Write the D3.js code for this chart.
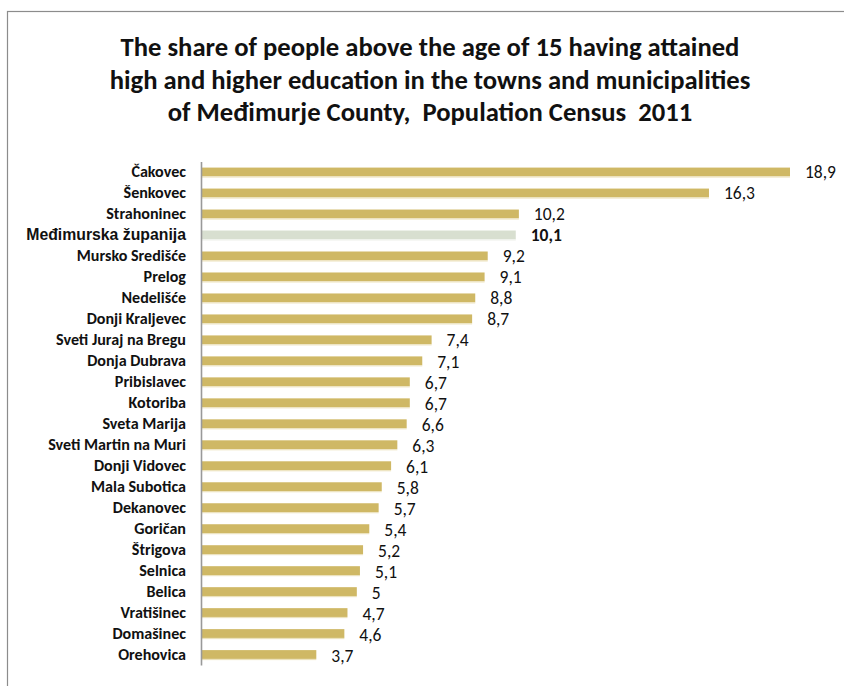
<!DOCTYPE html>
<html>
<head>
<meta charset="utf-8">
<script src="https://cdn.jsdelivr.net/npm/d3@7"></script>
<style>
  html, body { margin: 0; padding: 0; background: #fff; }
  svg { display: block; }
</style>
</head>
<body>
<svg id="chart" width="844" height="686"></svg>
<script>
// Towns and municipalities, ordered as drawn (top to bottom)
const places = [
  "Čakovec", "Šenkovec", "Strahoninec", "Međimurska županija", "Mursko Središće",
  "Prelog", "Nedelišće", "Donji Kraljevec", "Sveti Juraj na Bregu", "Donja Dubrava",
  "Pribislavec", "Kotoriba", "Sveta Marija", "Sveti Martin na Muri", "Donji Vidovec",
  "Mala Subotica", "Dekanovec", "Goričan", "Štrigova", "Selnica",
  "Belica", "Vratišinec", "Domašinec", "Orehovica"
];
// Share (%) of population aged 15+ with high and higher education
const shares = [
  18.9, 16.3, 10.2, 10.1, 9.2,
  9.1, 8.8, 8.7, 7.4, 7.1,
  6.7, 6.7, 6.6, 6.3, 6.1,
  5.8, 5.7, 5.4, 5.2, 5.1,
  5.0, 4.7, 4.6, 3.7
];
const countyName = "Međimurska županija";
const titleLines = [
  "The share of people above the age of 15 having attained",
  "high and higher education in the towns and municipalities",
  "of Međimurje County,  Population Census  2011"
];

const data = places.map((p, i) => ({ name: p, value: shares[i] }));
const fmt = v => String(v).replace(".", ",");

const svg = d3.select("#chart");
const font = "Carlito, Calibri, Lato, 'Open Sans', sans-serif";
const fontCounty = "'Liberation Sans', Arial, sans-serif";

// size a font so that a sample string spans a given width
function fitSize(family, weight, sample, targetWidth) {
  const probe = svg.append("text")
    .attr("font-family", family).attr("font-weight", weight)
    .attr("font-size", 20).style("white-space", "pre").text(sample);
  const w = probe.node().getComputedTextLength();
  probe.remove();
  return 20 * targetWidth / w;
}

// outer frame
svg.append("rect")
  .attr("x", 7.5).attr("y", 11.5)
  .attr("width", 900).attr("height", 800)
  .attr("fill", "none").attr("stroke", "#8c8c8c").attr("stroke-width", 1.2);

// title
const titleSize = fitSize(font, "bold", titleLines[1], 641);
const title = svg.append("g");
titleLines.forEach((t, i) => {
  title.append("text")
    .attr("x", 430).attr("y", 56 + i * 32.5)
    .attr("text-anchor", "middle")
    .attr("font-family", font)
    .attr("font-weight", "bold")
    .attr("font-size", titleSize)
    .attr("fill", "#111")
    .style("white-space", "pre")
    .text(t);
});

// plot area
const x0 = 201;
const x = d3.scaleLinear().domain([0, 18.9]).range([x0, 790]);
const y = d3.scaleBand().domain(places).range([161.5, 665]).paddingInner(0.58).paddingOuter(0.29);

const bars = svg.append("g");
bars.selectAll("rect.bar")
  .data(data)
  .join("rect")
  .attr("class", "bar")
  .attr("x", x(0))
  .attr("y", d => y(d.name))
  .attr("width", d => x(d.value) - x(0))
  .attr("height", y.bandwidth())
  .attr("fill", d => d.name === countyName ? "#d8dfd0" : "#cfb865");

// faint lower edge under each bar
bars.selectAll("rect.edge")
  .data(data)
  .join("rect")
  .attr("class", "edge")
  .attr("x", x(0))
  .attr("y", d => y(d.name) + y.bandwidth())
  .attr("width", d => x(d.value) - x(0))
  .attr("height", 1.2)
  .attr("fill", d => d.name === countyName ? "#eef1ea" : "#ece2bd");

// vertical category axis
const labelSize = fitSize(font, "bold", "Sveti Martin na Muri", 138);
const countySize = fitSize(fontCounty, "bold", countyName, 160);
const yAxis = d3.axisLeft(y).tickSize(0).tickPadding(15);
const axisG = svg.append("g")
  .attr("transform", `translate(${x0},0)`)
  .call(yAxis);
axisG.select(".domain").attr("stroke", "#999").attr("stroke-width", 1.6);
axisG.selectAll(".tick text")
  .attr("font-family", d => d === countyName ? fontCounty : font)
  .attr("font-weight", "bold")
  .attr("font-size", d => d === countyName ? countySize : labelSize)
  .attr("fill", "#111");

// value labels
const valueSize = Math.min(17.5, fitSize(font, "normal", "18,9", 35));
svg.append("g").selectAll("text")
  .data(data)
  .join("text")
  .attr("x", d => x(d.value) + 15)
  .attr("y", (d, i) => y(d.name) + y.bandwidth() / 2 + 6 + i * 0.08)
  .attr("font-family", font)
  .attr("font-size", valueSize)
  .attr("font-weight", d => d.name === countyName ? "bold" : "normal")
  .attr("fill", "#111")
  .text(d => fmt(d.value));
</script>
</body>
</html>
